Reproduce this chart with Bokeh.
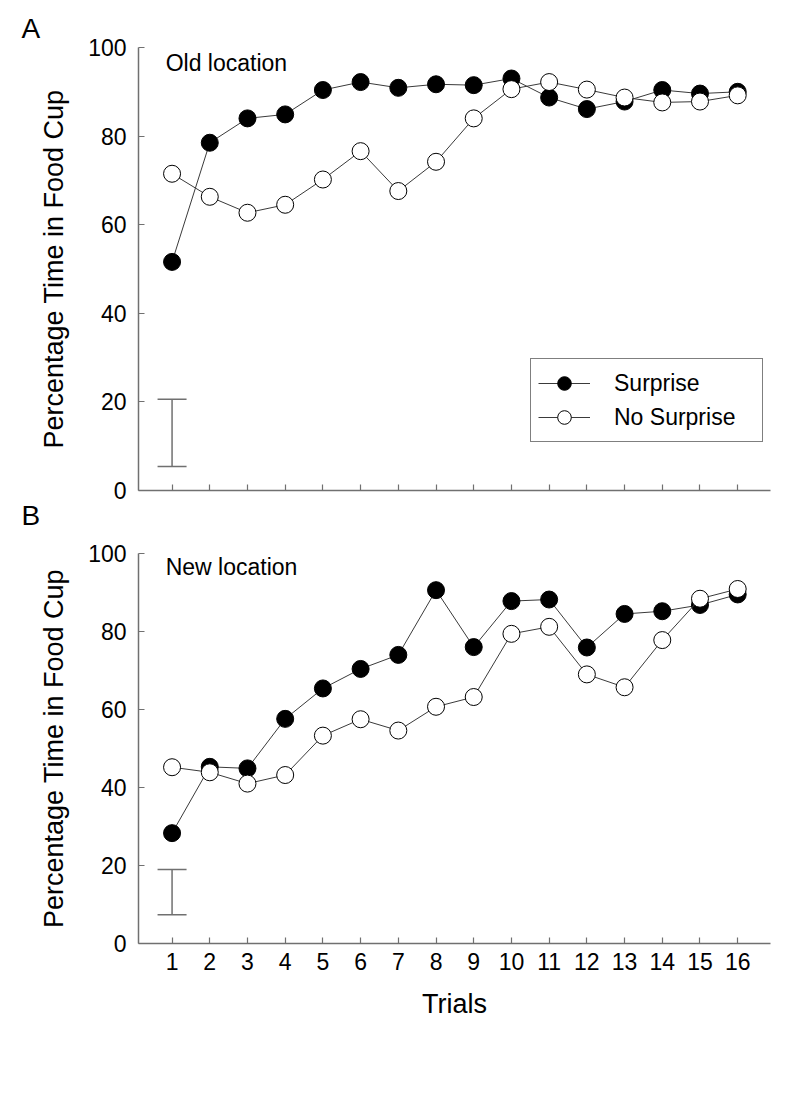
from bokeh.plotting import figure
from bokeh.models import (Range1d, FixedTicker, Legend, LegendItem, Label,
                          Whisker, TeeHead, ColumnDataSource, Title)
from bokeh.layouts import column
from bokeh.embed import file_html
from bokeh.resources import INLINE

# ---------------- data ----------------
trials = list(range(1, 17))
old_surprise = [51.6, 78.5, 84.0, 84.9, 90.4, 92.2, 90.9, 91.7, 91.5, 93.0,
                88.7, 86.1, 87.8, 90.4, 89.6, 90.0]
old_no_surprise = [71.5, 66.3, 62.7, 64.5, 70.2, 76.6, 67.6, 74.2, 84.0, 90.6,
                   92.2, 90.5, 88.7, 87.6, 87.8, 89.2]
new_surprise = [28.3, 45.3, 44.9, 57.6, 65.4, 70.4, 74.0, 90.6, 76.0, 87.8,
                88.2, 75.9, 84.5, 85.2, 86.8, 89.5]
new_no_surprise = [45.2, 43.9, 41.0, 43.2, 53.3, 57.5, 54.6, 60.7, 63.2, 79.4,
                   81.2, 69.0, 65.7, 77.8, 88.4, 90.9]
old_err = [5.4, 20.6]
new_err = [7.4, 19.0]
y_ticks = [0, 20, 40, 60, 80, 100]

FONT = "Liberation Sans"
AX = "#707070"
LINE = "#3a3a3a"


def panel_letter(text, standoff, valign):
    return Title(text=text, align="left", offset=-117,
                 text_font=FONT, text_font_size="28px",
                 text_font_style="normal", text_color="black",
                 standoff=standoff, vertical_align=valign)


def make_panel(note, s_vals, n_vals, err, height, top, bottom,
               show_x, show_legend):
    p = figure(width=792, height=height, output_backend="svg",
               toolbar_location=None,
               x_range=Range1d(0.11, 16.87), y_range=Range1d(0, 100),
               min_border_left=138, min_border_right=22,
               min_border_top=top, min_border_bottom=bottom)
    p.outline_line_color = None
    p.grid.visible = False
    p.background_fill_color = "white"
    p.border_fill_color = "white"

    for ax in (p.xaxis[0], p.yaxis[0]):
        ax.axis_line_color = AX
        ax.axis_line_width = 1.5
        ax.major_tick_line_color = AX
        ax.major_tick_line_width = 1.2
        ax.major_tick_in = 6
        ax.major_tick_out = 0
        ax.minor_tick_line_color = None
        ax.major_label_text_font = FONT
        ax.major_label_text_font_size = "23px"
        ax.major_label_text_color = "black"
        ax.axis_label_text_font = FONT
        ax.axis_label_text_font_size = "27px"
        ax.axis_label_text_font_style = "normal"
        ax.axis_label_text_color = "black"

    p.xaxis.ticker = FixedTicker(ticks=trials)
    p.yaxis.ticker = FixedTicker(ticks=y_ticks)
    p.yaxis.axis_label = "Percentage Time in Food Cup"
    p.yaxis.major_label_standoff = 12
    p.yaxis.axis_label_standoff = 16
    if show_x:
        p.xaxis.axis_label = "Trials"
        p.xaxis.major_label_standoff = 9
        p.xaxis.axis_label_standoff = 16
    else:
        p.xaxis.major_label_text_color = None
        p.xaxis.major_label_text_font_size = "1px"
        p.xaxis.major_label_standoff = 0

    src = ColumnDataSource(dict(x=trials, s=s_vals, n=n_vals))
    l1 = p.line("x", "s", source=src, line_color=LINE, line_width=1)
    c1 = p.scatter("x", "s", source=src, size=17, fill_color="black",
                   line_color="black", line_width=1)
    l2 = p.line("x", "n", source=src, line_color=LINE, line_width=1)
    c2 = p.scatter("x", "n", source=src, size=17, fill_color="white",
                   line_color="black", line_width=1)

    esrc = ColumnDataSource(dict(base=[1], lower=[err[0]], upper=[err[1]]))
    w = Whisker(base="base", lower="lower", upper="upper", source=esrc,
                line_color=AX, line_width=1.5,
                upper_head=TeeHead(size=29, line_color=AX, line_width=1.5),
                lower_head=TeeHead(size=29, line_color=AX, line_width=1.5))
    p.add_layout(w)

    p.add_layout(Label(x=0.83, y=96.5, text=note, text_font=FONT,
                       text_font_size="23px", text_baseline="middle",
                       text_color="black"))

    if show_legend:
        legend = Legend(items=[LegendItem(label="Surprise", renderers=[l1, c1]),
                               LegendItem(label="No Surprise", renderers=[l2, c2])],
                        location=(392, 48))
        legend.border_line_color = "black"
        legend.border_line_width = 1
        legend.background_fill_color = "white"
        legend.background_fill_alpha = 1
        legend.label_text_font = FONT
        legend.label_text_font_size = "23px"
        legend.label_text_color = "black"
        legend.glyph_width = 52
        legend.glyph_height = 34
        legend.label_height = 20
        legend.label_width = 141
        legend.label_standoff = 24
        legend.padding = 7
        legend.spacing = 0
        legend.margin = 0
        p.add_layout(legend)
    return p


p1 = make_panel("Old location", old_surprise, old_no_surprise, old_err,
                height=540, top=47, bottom=50, show_x=False, show_legend=True)
p1.title = panel_letter("A", 8, "bottom")
# panel letter of the lower chart sits in the gap between the two charts
p1.add_layout(panel_letter("B", 14, "bottom"), "below")

p2 = make_panel("New location", new_surprise, new_no_surprise, new_err,
                height=490, top=13, bottom=87, show_x=True, show_legend=False)

layout = column(p1, p2, spacing=0)
open("out.html", "w").write(file_html(layout, INLINE))
